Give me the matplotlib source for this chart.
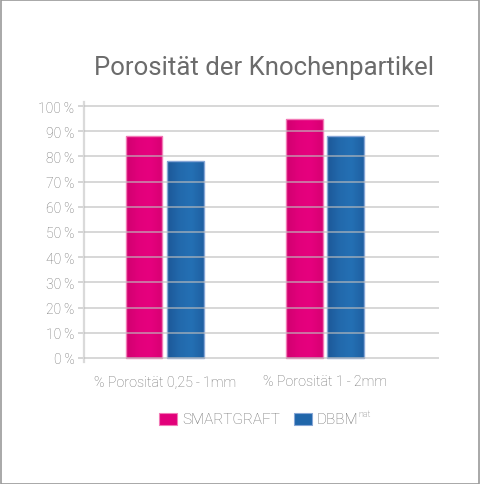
import matplotlib
matplotlib.use("Agg")
import matplotlib.pyplot as plt
import numpy as np
from matplotlib.colors import LinearSegmentedColormap
from matplotlib.patches import Rectangle

plt.rcParams['font.family'] = ['Roboto', 'DejaVu Sans']

# ---- data ----
title = "Porosität der Knochenpartikel"
categories = ["% Porosität 0,25\u2009-\u20091mm", "% Porosität 1\u2009-\u20092mm"]
series_names = ["SMARTGRAFT", "DBBM"]
smartgraft = [88, 95]
dbbm = [78, 88]
yticks = [0, 10, 20, 30, 40, 50, 60, 70, 80, 90, 100]
ytick_labels = [f"{v}\u2009%" for v in yticks]

pink_cmap = LinearSegmentedColormap.from_list("pk", ["#d0006f", "#e2007b", "#e6007e", "#d80073"])
blue_cmap = LinearSegmentedColormap.from_list("bl", ["#1c5898", "#2269ac", "#2470b4", "#1f60a2"])
pink_edge = "#f27ab6"
blue_edge = "#86a6d6"
label_color = "#707070"

W, H = 480, 485
fig = plt.figure(figsize=(W / 100, H / 100), dpi=100)
fig.patch.set_facecolor("white")

# outer border
fig.patches.append(Rectangle((0.5 / W, 0.5 / H), (W - 1.5) / W, (H - 1.5) / H,
                             transform=fig.transFigure, fill=False,
                             edgecolor="#9a9a9a", linewidth=1.2))

ax = fig.add_axes([84 / W, (H - 363) / H, (439 - 84) / W, 260 / H])
ax.set_facecolor("none")

x = np.arange(len(categories))
off = 0.131
bw = 0.231
grad = np.linspace(0, 1, 64).reshape(1, -1)

def draw_bars(xs, vals, cmap, edge):
    bars = ax.bar(xs, vals, width=bw, facecolor="none", edgecolor=edge, linewidth=1.0, zorder=3)
    for b in bars:
        x0, y0 = b.get_x(), b.get_y()
        w, h = b.get_width(), b.get_height()
        im = ax.imshow(grad, extent=[x0, x0 + w, y0, y0 + h], aspect="auto",
                       cmap=cmap, zorder=2, interpolation="bilinear")
        im.set_clip_path(b)
    return bars

draw_bars(x - off, smartgraft, pink_cmap, pink_edge)
draw_bars(x + off, dbbm, blue_cmap, blue_edge)

ax.set_xlim(-0.506, 1.7125)
ax.set_ylim(-1.6, 101.6)

# grid lines above bars, semi transparent
for v in yticks:
    ax.axhline(v, color="#bdbdbd", alpha=0.65, linewidth=1.3, zorder=4)

for s in ["top", "right", "bottom"]:
    ax.spines[s].set_visible(False)
ax.spines["left"].set_color("#dadada")
ax.spines["left"].set_linewidth(1.6)

ax.set_yticks(yticks)
ax.set_yticklabels(ytick_labels)
ax.tick_params(axis="y", length=4, width=1.3, color="#d2d2d2", pad=3,
               labelsize=10, labelcolor=label_color)
for t in ax.get_yticklabels():
    t.set_fontweight("light")

ax.set_xticks(x)
ax.set_xticklabels(categories)
ax.tick_params(axis="x", length=0, pad=9, labelsize=10.3, labelcolor=label_color)
for t in ax.get_xticklabels():
    t.set_fontweight("light")

# title
fig.text(264 / W, 1 - 68 / H, title, ha="center", va="center",
         fontsize=18.5, color="#6b6b6b", fontweight="normal")

# legend (manual)
leg_y = 1 - 420 / H
fig.patches.append(Rectangle((159 / W, 1 - 426 / H), 18 / W, 12 / H,
                             transform=fig.transFigure, facecolor="#e2007a",
                             edgecolor=pink_edge, linewidth=0.8))
fig.text(182 / W, leg_y, series_names[0], ha="left", va="center",
         fontsize=11, color=label_color, fontweight="light")
fig.patches.append(Rectangle((294 / W, 1 - 426 / H), 18 / W, 12 / H,
                             transform=fig.transFigure, facecolor="#2066aa",
                             edgecolor=blue_edge, linewidth=0.8))
t2 = fig.text(316 / W, leg_y, series_names[1], ha="left", va="center",
              fontsize=11, color=label_color, fontweight="light")
fig.canvas.draw()
bb = t2.get_window_extent()
fig.text((bb.x1 + 1) / W, 1 - 419 / H, "nat", ha="left", va="bottom",
         fontsize=6.5, color=label_color, fontweight="light")

fig.savefig("out.png", dpi=100, facecolor="white")
